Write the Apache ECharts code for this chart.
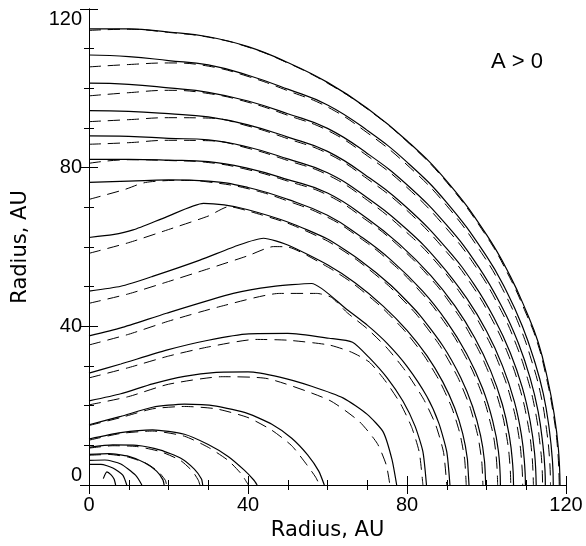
<!DOCTYPE html>
<html>
<head>
<meta charset="utf-8">
<script src="https://cdn.jsdelivr.net/npm/echarts@6/dist/echarts.min.js"></script>
<style>
  html, body { margin: 0; padding: 0; background: #fff; }
  #chart { width: 586px; height: 546px; }
</style>
</head>
<body>
<div id="chart"></div>
<script>
// contour lines, [radius x, radius y] in AU
// solid contours
const s1 = [[0,115],[10,115],[20,114.2],[30,113],[40,110.5],[50,106.5],[60,101.5],[70,95],[80,86.8],[90,76.6],[100,63.1],[106,52.6],[110,43.8],[113,36],[115.3,27],[117,18],[118.1,9],[118.5,0]];
const s2 = [[0,108.4],[10,108],[20,107],[30,105.9],[40,103.3],[50,99.8],[60,95.8],[70,89.4],[80,81.4],[90,71.2],[100,57.7],[105,48.9],[109,40.1],[112,31.5],[114.3,23],[115.8,14],[116.6,6],[116.8,0]];
const s3 = [[0,101.3],[10,101],[20,100.1],[30,99],[40,96.8],[50,93.6],[60,89.9],[70,83.6],[80,75.7],[90,65.5],[98,55],[104,44.7],[108,35.8],[111,26.9],[113,18.5],[114.2,10],[114.7,4],[114.8,0]];
const s4 = [[0,94.4],[10,94.2],[20,93.6],[30,92.8],[40,90.8],[50,87.7],[60,84.1],[70,77.8],[80,69.9],[90,59.6],[97,50.4],[102,41.9],[106,33.3],[109,24.6],[111,16],[112.1,8],[112.5,0]];
const s5 = [[0,88],[10,87.9],[20,87.4],[30,87],[40,85.2],[50,82.2],[60,78.7],[70,72.4],[80,64.4],[88,56.2],[95,47.1],[100,38.8],[104,30.1],[107,21.1],[108.8,12.5],[109.6,5],[109.8,0]];
const s6 = [[0,82.1],[10,82.1],[20,81.9],[30,81.5],[40,79.8],[50,77],[60,73.6],[70,67.2],[78,60.8],[86,52.8],[92,45.2],[97,37.2],[101,28.9],[104,20.3],[105.8,12],[106.6,5],[106.8,0]];
const s7 = [[0,76.3],[10,76.6],[20,76.9],[30,76.6],[40,75],[50,72],[60,68],[68,62.9],[76,56.7],[84,48.8],[90,41.2],[95,33.1],[99,24.4],[101.6,16],[103,8.5],[103.5,0]];
const s8 = [[0,62.4],[6,63.1],[11.1,64.3],[19.5,67.6],[28.8,71],[34,70.6],[40,69.4],[50,66.3],[60,62],[68,56.8],[76,50.3],[83,43.1],[89,35.1],[93.5,27.1],[96.5,19.8],[98.5,12.5],[99.5,6],[99.8,0]];
const s9 = [[0,48.9],[8,50.1],[16,52.6],[27.9,56.7],[37.7,60.5],[43.9,62.2],[50,60.5],[60,55.5],[67,50.9],[74,45.1],[80,39],[85,32.6],[89,26],[92,19.4],[94,13],[95.2,6.5],[95.6,0]];
const s10 = [[0,37.6],[8,39.6],[19.5,43.3],[36.3,48.3],[46,50],[56,50.8],[64.8,44.3],[70,40.3],[75,35.7],[80,29.9],[85,22.3],[88,15.6],[90,8.4],[90.8,0]];
const s11 = [[0,28.2],[8,30.5],[19.5,34],[30,36.5],[40.2,38.1],[50,38.2],[60.4,37],[66.3,36],[70.5,32.1],[75,27],[79,21.1],[82,14.9],[84,8.4],[84.9,0]];
const s12 = [[0,21.2],[8,23],[16,25.5],[24,27.4],[32,28.4],[40,28.5],[48,27.2],[56,24.9],[64,21.9],[70,17.8],[74,13.4],[76.2,6.5],[77.4,0]];
const s13 = [[0,15.2],[8,17.3],[16,19.6],[24,20.4],[32,19.9],[40,18],[46,15.3],[51,11.8],[55,7.6],[57.8,3.5],[59.2,0]];
const s14 = [[0,11.6],[8,13.2],[16,13.9],[24,12.8],[30,10.2],[35,7.2],[39,3.8],[41.5,1.2],[42.3,0]];
const s15 = [[0,9.5],[6,10.1],[12,10],[18,8.8],[23,6.8],[26.5,4],[28.3,1.5],[28.6,0]];
const s16 = [[0,7.7],[5,7.9],[10,7.2],[14,5.6],[17,3.5],[18.6,1.3],[18.9,0]];
const s17 = [[0,6.2],[4,6.3],[8,5.3],[11.7,2.5],[13.3,0]];
const s18 = [[0,5.2],[3,5.2],[6,4.3],[8.5,2.5],[9.5,0]];
const hook = [[3.6,1.6],[4.5,3.3],[5.5,2.6],[6.3,1.5],[6.7,0]];

// dashed contours
const d1 = [[0,114.6],[10,114.9],[20,114.1],[30,112.9],[40,110.4],[50,106.4],[60,101.3],[70,94.8],[80,86.6],[90,76.3],[100,62.7],[105.8,52.4],[109.8,43.6],[112.8,35.9],[115.1,26.9],[116.8,18],[117.9,9],[118.3,0]];
const d2 = [[0,105.4],[10,106],[20,106.4],[30,105.6],[40,103],[50,99.4],[60,95.3],[70,88.8],[80,80.7],[90,70.4],[99.3,57.7],[104.3,48.9],[108.3,40.1],[111.3,31.5],[113.6,23],[115.1,14],[115.9,6],[116.1,0]];
const d3 = [[0,98.1],[10,98.9],[20,99.5],[30,98.7],[40,96.5],[50,93.2],[60,89.4],[70,83],[80,75],[90,64.6],[97.3,55],[103.3,44.7],[107.3,35.8],[110.3,26.9],[112.3,18.5],[113.5,10],[114,4],[114.1,0]];
const d4 = [[0,91.6],[10,92.1],[20,92.6],[30,92.5],[40,90.5],[50,87.3],[60,83.6],[70,77.2],[80,69.2],[90,58.7],[96.3,50.4],[101.3,41.9],[105.3,33.3],[108.3,24.6],[110.3,16],[111.4,8],[111.8,0]];
const d5 = [[0,85.9],[10,86.3],[20,86.9],[30,86.8],[40,84.9],[50,81.8],[60,78.2],[70,71.8],[80,63.6],[87.3,56.2],[94.3,47.1],[99.3,38.8],[103.3,30.1],[106.3,21.1],[108.1,12.5],[108.9,5],[109.1,0]];
const d6 = [[0,81.1],[10,82],[20,81.8],[30,81.3],[40,79.5],[50,76.6],[60,73.1],[70,66.6],[77.3,60.8],[85.3,52.8],[91.3,45.2],[96.3,37.2],[100.3,28.9],[103.3,20.3],[105.1,12],[105.9,5],[106.1,0]];
const d7 = [[0,72],[8,74.2],[16,76.5],[24,76.8],[30,76.4],[40,74.7],[50,71.6],[60,67.5],[67.3,62.9],[75.3,56.7],[83.3,48.8],[89.3,41.2],[94.3,33.1],[98.3,24.4],[100.9,16],[102.3,8.5],[102.8,0]];
const d8 = [[0,58.4],[10,61.1],[20,64.4],[30,67.8],[35.2,70.2],[40,69.1],[50,66],[60,61.5],[67.3,56.8],[75.3,50.3],[82.3,43.1],[88.3,35.1],[92.8,27.1],[95.8,19.8],[97.8,12.5],[98.8,6],[99.1,0]];
const d9 = [[0,45.8],[10,48.2],[20,51.3],[30,54.5],[40,57.8],[46.4,60.1],[50,60],[60,55],[66.3,50.9],[73.3,45.1],[79.3,39],[84.3,32.6],[88.3,26],[91.3,19.4],[93.3,13],[94.5,6.5],[94.9,0]];
const d10 = [[0,35.3],[10,38],[20,41.3],[33,45],[48,48.3],[57.3,48.3],[61,47.3],[65,43.4],[70,39.4],[75,34.5],[79.5,28.9],[84.2,21.6],[87.2,15.2],[89.2,8.2],[90,0]];
const d11 = [[0,27],[10,29.6],[20,32.5],[30,34.8],[41.9,36.7],[50,36.5],[60.4,35.3],[66,33.5],[70.5,31],[74.5,26.3],[78.3,20.6],[81.2,14.5],[83.1,8.2],[84,0]];
const d12 = [[0,20.2],[10,22.3],[20,25.4],[33.5,27.3],[45,26.8],[60.4,21.4],[68,16],[72.5,10.5],[74.8,5],[75.7,0]];
const d13 = [[0,15],[8,17],[16,19.2],[24,19.8],[32,19.2],[40,17],[46,13.8],[51,9.9],[54.5,5.5],[57,2],[58,0]];
const d14 = [[0,11.3],[8,13],[16,13.6],[24,12.3],[30,9.5],[35,6.2],[38.3,2.8],[40.1,0]];
const d15 = [[0,9.3],[6,9.9],[12,9.7],[18,8.4],[23,6.2],[26,3.5],[27.5,1.2],[27.9,0]];
const d16 = [[0,7.5],[5,7.7],[10,7],[14.5,5.4],[17.5,3.3],[19.2,1.2],[19.5,0]];

const xTicks = [0, 40, 80, 120];
const axisTitle = 'Radius, AU';
const panelNote = 'A > 0';

// outer (round) contours get more smoothing than the kinked inner ones
const solidLines = [s1,s2,s3,s4,s5,s6,s7,s8,s9,s10,s11,s12,s13,s14,s15,s16,s17,s18,hook];
const dashedLines = [d1,d2,d3,d4,d5,d6,d7,d8,d9,d10,d11,d12,d13,d14,d15,d16];
const roundCount = 7;

const chart = echarts.init(document.getElementById('chart'));

function axisBase(extra) {
  return Object.assign({
    type: 'value',
    min: xTicks[0],
    max: xTicks[xTicks.length - 1],
    interval: 40,
    axisLine: { show: true, lineStyle: { color: '#000', width: 1 } },
    axisTick: { show: true, inside: true, length: 9, lineStyle: { color: '#000' } },
    minorTick: { show: true, splitNumber: 4, length: 5, lineStyle: { color: '#000' } },
    splitLine: { show: false },
    minorSplitLine: { show: false }
  }, extra);
}

const lab = { color: '#000', fontSize: 20, fontFamily: 'Liberation Sans' };

let series = [];
solidLines.forEach(function (pts, i) {
  series.push({
    type: 'line', data: pts, showSymbol: false, smooth: i < roundCount ? 0.45 : 0.2,
    lineStyle: { color: '#000', width: 1.2 }
  });
});
dashedLines.forEach(function (pts, i) {
  series.push({
    type: 'line', data: pts, showSymbol: false, smooth: i < roundCount ? 0.45 : 0.2,
    lineStyle: { color: '#000', width: 1, type: [12, 7] }
  });
});

chart.setOption({
  animation: false,
  backgroundColor: '#fff',
  grid: { left: 89, right: 20, top: 9, bottom: 61 },
  xAxis: [
    axisBase({
      position: 'bottom',
      name: axisTitle, nameLocation: 'middle', nameGap: 22,
      nameTextStyle: { color: '#000', fontSize: 21, fontFamily: 'DejaVu Sans' },
      axisLabel: Object.assign({ margin: 10 }, lab)
    }),
    axisBase({ position: 'top', axisLabel: { show: false } })
  ],
  yAxis: [
    axisBase({
      position: 'left',
      name: axisTitle, nameLocation: 'middle', nameGap: 58,
      nameTextStyle: { color: '#000', fontSize: 21, fontFamily: 'DejaVu Sans' },
      axisLabel: Object.assign({ margin: 7, verticalAlignMinLabel: 'bottom', verticalAlignMaxLabel: 'top' }, lab)
    }),
    axisBase({ position: 'right', axisLabel: { show: false } })
  ],
  graphic: [{
    type: 'text', left: 491, top: 51,
    style: { text: panelNote, fill: '#000', font: '22px "Liberation Sans"' }
  }],
  series: series
});
</script>
</body>
</html>
